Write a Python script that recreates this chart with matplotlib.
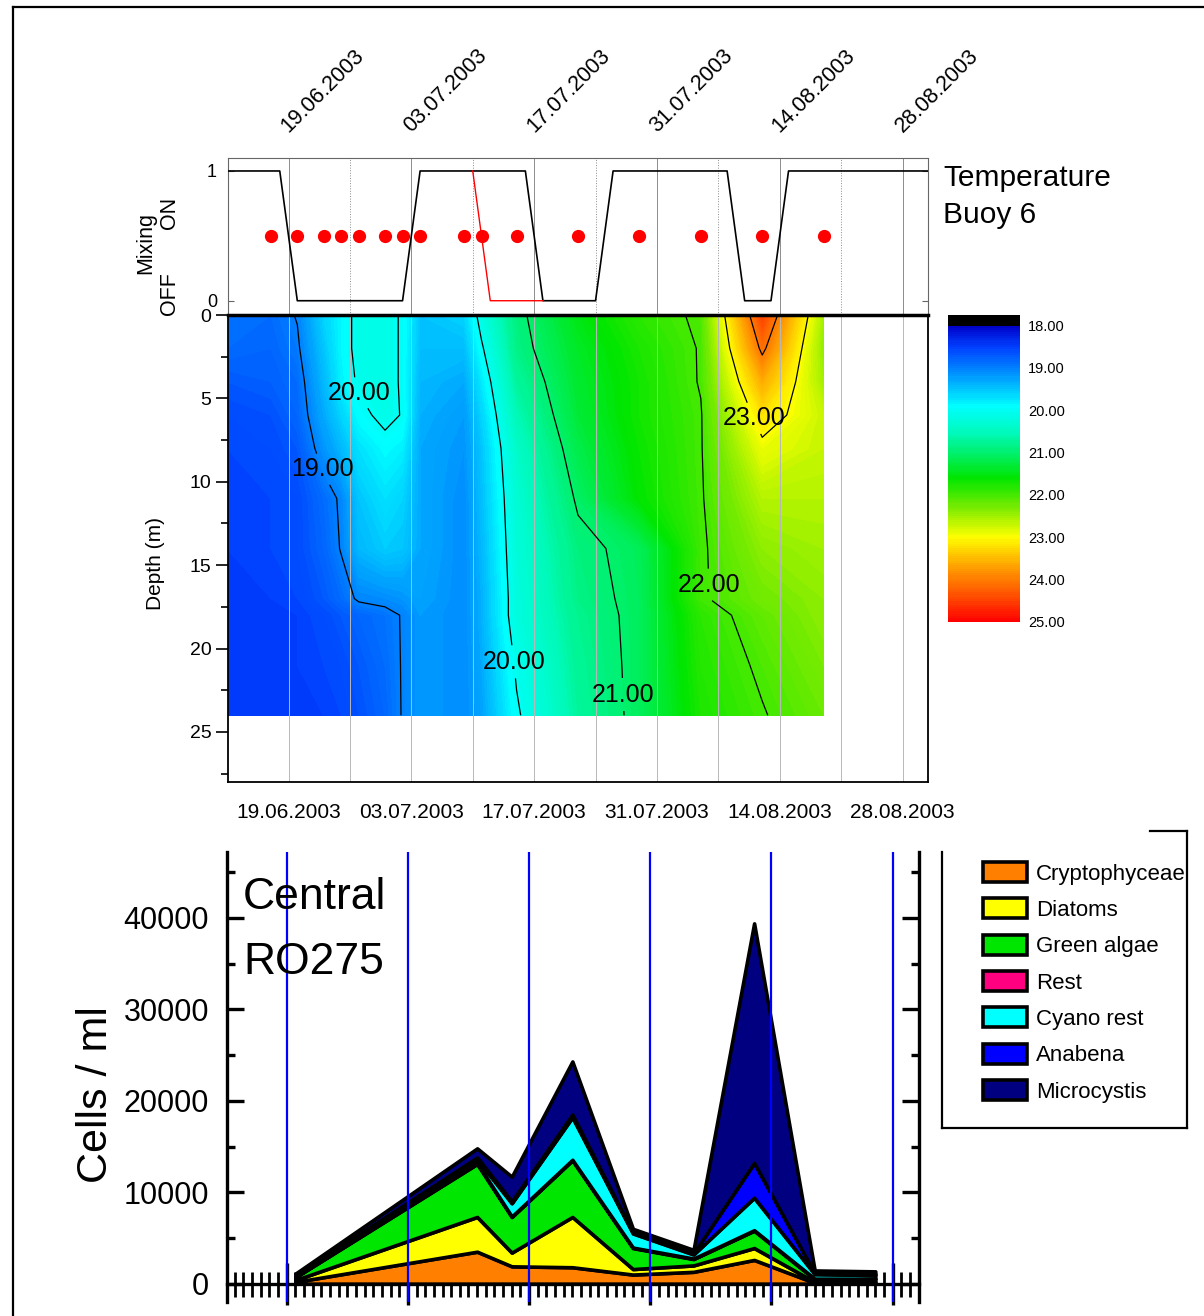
import numpy as np
import pandas as pd
import matplotlib
matplotlib.use('Agg')
import matplotlib.pyplot as plt
import matplotlib.ticker as ticker
from matplotlib.colors import LinearSegmentedColormap
from matplotlib.lines import Line2D

plt.rcParams['font.family'] = ['Liberation Sans', 'DejaVu Sans']

W, H = 1204, 1316
T0 = pd.Timestamp('2003-06-12')


def days(dates):
    # day number counted from 12.06.2003
    d = pd.to_datetime(dates, format='%d.%m.%Y')
    return np.asarray((d - T0).days, dtype=float)


#----DATA

date_ticks = ['19.06.2003', '03.07.2003', '17.07.2003', '31.07.2003', '14.08.2003', '28.08.2003']

# mixing on (1) / off (0)
mix_dates = ['12.06.2003', '18.06.2003', '20.06.2003', '02.07.2003', '04.07.2003', '16.07.2003',
             '18.07.2003', '24.07.2003', '26.07.2003', '08.08.2003', '10.08.2003', '13.08.2003',
             '15.08.2003', '31.08.2003']
mix_state = [1, 1, 0, 0, 1, 1, 0, 0, 1, 1, 0, 0, 1, 1]
mix2_dates = ['10.07.2003', '12.07.2003', '18.07.2003']
mix2_state = [1, 0, 0]

# buoy profile dates
sample_dates = ['17.06.2003', '20.06.2003', '23.06.2003', '25.06.2003', '27.06.2003', '30.06.2003',
                '02.07.2003', '04.07.2003', '09.07.2003', '11.07.2003', '15.07.2003', '22.07.2003',
                '29.07.2003', '05.08.2003', '12.08.2003', '19.08.2003']

# temperature (deg C), rows = depth, cols = 12.06 + sample dates
temp_dates = ['12.06.2003'] + sample_dates
depths = [0, 2, 4, 6, 8, 11, 14, 17, 18, 21, 24]
temp = np.array([
    [18.90, 18.85, 19.02, 19.60, 19.85, 20.10, 20.15, 19.95, 19.50, 19.60, 20.15, 20.90, 21.50, 21.85, 22.05, 24.50, 22.50],
    [18.85, 18.80, 18.95, 19.50, 19.85, 20.10, 20.15, 19.95, 19.45, 19.45, 19.95, 20.85, 21.40, 21.75, 22.02, 24.10, 22.40],
    [18.70, 18.75, 18.85, 19.40, 19.80, 20.05, 20.15, 19.95, 19.40, 19.30, 19.75, 20.70, 21.35, 21.70, 22.02, 23.60, 22.50],
    [18.60, 18.65, 18.80, 19.30, 19.60, 19.90, 20.10, 19.98, 19.35, 19.20, 19.60, 20.55, 21.30, 21.70, 21.98, 23.20, 22.70],
    [18.55, 18.60, 18.70, 19.15, 19.40, 19.70, 19.88, 19.80, 19.30, 19.15, 19.50, 20.40, 21.20, 21.65, 21.98, 22.90, 22.70],
    [18.50, 18.55, 18.60, 18.85, 19.05, 19.50, 19.70, 19.60, 19.30, 19.10, 19.45, 20.30, 21.05, 21.60, 21.97, 22.60, 22.60],
    [18.50, 18.55, 18.60, 18.80, 19.02, 19.40, 19.55, 19.50, 19.30, 19.10, 19.40, 20.25, 20.90, 21.12, 21.95, 22.40, 22.50],
    [18.50, 18.50, 18.55, 18.70, 18.85, 19.05, 19.10, 19.15, 19.25, 19.10, 19.35, 20.20, 20.85, 21.10, 21.96, 22.25, 22.40],
    [18.50, 18.50, 18.50, 18.60, 18.70, 18.80, 18.90, 19.02, 19.20, 19.10, 19.35, 20.20, 20.80, 21.10, 21.85, 22.15, 22.40],
    [18.50, 18.50, 18.50, 18.55, 18.60, 18.70, 18.85, 19.02, 19.20, 19.10, 19.30, 20.05, 20.75, 21.10, 21.80, 22.05, 22.30],
    [18.50, 18.50, 18.50, 18.50, 18.55, 18.65, 18.80, 19.02, 19.20, 19.10, 19.25, 19.95, 20.70, 21.10, 21.75, 21.98, 22.20],
])

# phytoplankton, cells/ml
cell_dates = ['20.06.2003', '11.07.2003', '15.07.2003', '22.07.2003', '29.07.2003',
              '05.08.2003', '12.08.2003', '19.08.2003', '26.08.2003']
crypto = [200, 3500, 1900, 1800, 1000, 1300, 2600, 100, 100]
diatoms = [200, 3800, 1500, 5500, 600, 700, 1300, 100, 100]
green = [300, 5800, 3900, 6200, 2300, 700, 1900, 300, 300]
rest = [50, 100, 50, 50, 50, 50, 50, 50, 50]
cyano = [100, 400, 1450, 4650, 1550, 450, 3550, 500, 400]
anabena = [50, 200, 200, 300, 100, 100, 3800, 100, 100]
micro = [200, 1000, 2700, 5800, 400, 400, 26200, 300, 300]

layer_names = ['Cryptophyceae', 'Diatoms', 'Green algae', 'Rest', 'Cyano rest', 'Anabena', 'Microcystis']
layer_colors = ['#ff8000', '#ffff00', '#00e600', '#ff0080', '#00ffff', '#0000ff', '#000080']

#----

major_days = days(date_ticks)
grid_days = np.arange(7, 80, 7)

fig = plt.figure(figsize=(W / 100, H / 100), dpi=100)


def px_axes(x0, y0, x1, y1):
    return fig.add_axes([x0 / W, 1 - y1 / H, (x1 - x0) / W, (y1 - y0) / H])


#MIXING PANEL
ax_mix = px_axes(228, 158, 928, 315)
for d in grid_days:
    ls = '-' if d in major_days else ':'
    ax_mix.axvline(d, color='0.55', lw=0.7, ls=ls, zorder=1)
ax_mix.plot(days(mix_dates), mix_state, color='black', lw=1.2, zorder=3)
ax_mix.plot(days(mix2_dates), mix2_state, color='red', lw=1.0, zorder=3)
ax_mix.plot(days(sample_dates), [0.5] * len(sample_dates), 'o', color='red', ms=8.5, mec='red', zorder=4)
ax_mix.set_xlim(0.1, 79.9)
ax_mix.set_ylim(-0.11, 1.1)
ax_mix.set_yticks([0, 1])
ax_mix.tick_params(axis='y', direction='in', length=4, left=True, right=True, labelsize=13, pad=8, color='0.4')
ax_mix.set_xticks(major_days, labels=date_ticks, rotation=45, ha='left', va='baseline',
                  rotation_mode='anchor', fontsize=15.5)
ax_mix.tick_params(axis='x', top=True, bottom=False, labeltop=True, labelbottom=False, length=0, pad=18)
for s in ['left', 'top', 'right']:
    ax_mix.spines[s].set_color('0.4')
    ax_mix.spines[s].set_linewidth(0.8)
ax_mix.spines['bottom'].set_visible(False)

fig.text(146 / W, 1 - 243 / H, 'Mixing', rotation=90, ha='center', va='center', fontsize=15.5)
fig.text(170 / W, 1 - 213 / H, 'ON', rotation=90, ha='center', va='center', fontsize=15.5)
fig.text(170 / W, 1 - 294 / H, 'OFF', rotation=90, ha='center', va='center', fontsize=15.5)
fig.text(943 / W, 1 - 178 / H, 'Temperature', ha='left', va='center', fontsize=21.5)
fig.text(943 / W, 1 - 215 / H, 'Buoy 6', ha='left', va='center', fontsize=21.5)

#TEMPERATURE CONTOURS
cmap_pts = [(17.75, '#000000'), (17.99, '#000000'), (18.0, '#0000c8'), (18.5, '#0040ff'),
            (19.0, '#0080ff'), (19.9, '#00ffff'), (20.5, '#00fabe'), (21.0, '#00f06e'),
            (21.6, '#00e600'), (22.3, '#78eb00'), (23.0, '#ffff00'), (23.7, '#ffa000'),
            (24.3, '#ff5a00'), (25.0, '#ff0000')]
cmap = LinearSegmentedColormap.from_list('buoy', [((v - 17.75) / 7.25, c) for v, c in cmap_pts])

ax_t = px_axes(228, 315, 928, 782)
X, Y = np.meshgrid(days(temp_dates), depths)
cf = ax_t.contourf(X, Y, temp, levels=np.arange(17.75, 25.001, 0.05), cmap=cmap, zorder=1)
for d in grid_days:
    ax_t.axvline(d, color='0.72', lw=0.7, zorder=2)
cs = ax_t.contour(X, Y, temp, levels=[19, 20, 21, 22, 23, 24], colors='black', linewidths=0.9, zorder=3)
lbl_pos = [(11.3, 9.2), (14.6, 4.8), (32.5, 20.8), (45.4, 22.75), (54.7, 16.2), (61.2, 6.0)]
labels = ax_t.clabel(cs, levels=[19, 20, 21, 22, 23], manual=lbl_pos, fmt='%.2f',
                     fontsize=18, inline=True, inline_spacing=-12)
for t in labels:
    t.set_rotation(0)

ax_t.set_xlim(0.1, 79.9)
ax_t.set_ylim(28, 0)
ax_t.yaxis.set_major_locator(ticker.MultipleLocator(5))
ax_t.yaxis.set_minor_locator(ticker.MultipleLocator(2.5))
ax_t.tick_params(axis='y', which='major', direction='out', length=9, width=1.2, labelsize=14, pad=3)
ax_t.tick_params(axis='y', which='minor', direction='out', length=5, width=1.2)
ax_t.set_xticks(major_days, labels=date_ticks, fontsize=15)
ax_t.tick_params(axis='x', length=0, pad=15)
ax_t.set_ylabel('Depth (m)', fontsize=15)
ax_t.yaxis.set_label_coords(-0.09, 0.467)
ax_t.spines['top'].set_linewidth(2.5)
for s in ['left', 'bottom', 'right']:
    ax_t.spines[s].set_linewidth(1.3)

cax = px_axes(948, 315, 1020, 622)
cb = fig.colorbar(cf, cax=cax, ticks=np.arange(18, 26))
cb.outline.set_visible(False)
cax.invert_yaxis()
cax.yaxis.set_major_formatter(ticker.FormatStrFormatter('%.2f'))
cax.tick_params(length=0, labelsize=10.5, pad=6)

#CELL COUNTS
ax_c = px_axes(227, 852, 919, 1302)
polys = ax_c.stackplot(days(cell_dates), crypto, diatoms, green, rest, cyano, anabena, micro,
                       colors=layer_colors, labels=layer_names, edgecolor='black',
                       linewidth=2.6, zorder=2)
for d in major_days:
    ax_c.axvline(d, color='#0000ff', lw=1.6, zorder=3)
ax_c.set_xlim(0.1, 80.05)
ax_c.set_ylim(-2000, 47200)
ax_c.spines['bottom'].set_position(('data', 0))
ax_c.spines['top'].set_visible(False)
for s in ['left', 'right', 'bottom']:
    ax_c.spines[s].set_linewidth(2.4)
ax_c.xaxis.set_major_locator(ticker.FixedLocator(major_days))
ax_c.xaxis.set_minor_locator(ticker.MultipleLocator(1))
ax_c.tick_params(axis='x', which='major', direction='inout', length=30, width=2.4, labelbottom=False)
ax_c.tick_params(axis='x', which='minor', direction='inout', length=18, width=2.0)
ax_c.yaxis.set_major_locator(ticker.MultipleLocator(10000))
ax_c.yaxis.set_minor_locator(ticker.MultipleLocator(5000))
ax_c.tick_params(axis='y', which='both', direction='in', left=True, right=True, width=2.4)
ax_c.tick_params(axis='y', which='major', length=12, labelsize=22, pad=13)
ax_c.tick_params(axis='y', which='minor', length=6)
ax_c.set_ylabel('Cells / ml', fontsize=31)
ax_c.yaxis.set_label_coords(-0.16, 0.46)
ax_c.text(16 / 692, 0.945, 'Central\nRO275', transform=ax_c.transAxes, ha='left', va='top',
          fontsize=32, linespacing=1.75, zorder=4)

fig.legend(handles=polys, labels=layer_names, loc='upper left', bbox_to_anchor=(983 / W, 1 - 862 / H),
           frameon=False, prop={'size': 16}, handlelength=2.0, handleheight=1.0,
           handletextpad=0.4, labelspacing=0.62, borderpad=0, borderaxespad=0)

# legend box and outer frame
frame_lines = [([1187, 1187], [831, 1128]), ([942, 1187], [1128, 1128]), ([942, 942], [852, 1128]),
               ([1150, 1187], [831, 831]), ([13, 13], [7, 1316]), ([13, 1204], [7, 7])]
for xs, ys in frame_lines:
    fig.add_artist(Line2D(np.array(xs) / W, 1 - np.array(ys) / H, transform=fig.transFigure,
                          color='black', lw=1.6))

fig.savefig('out.png', dpi=100, facecolor='white')
